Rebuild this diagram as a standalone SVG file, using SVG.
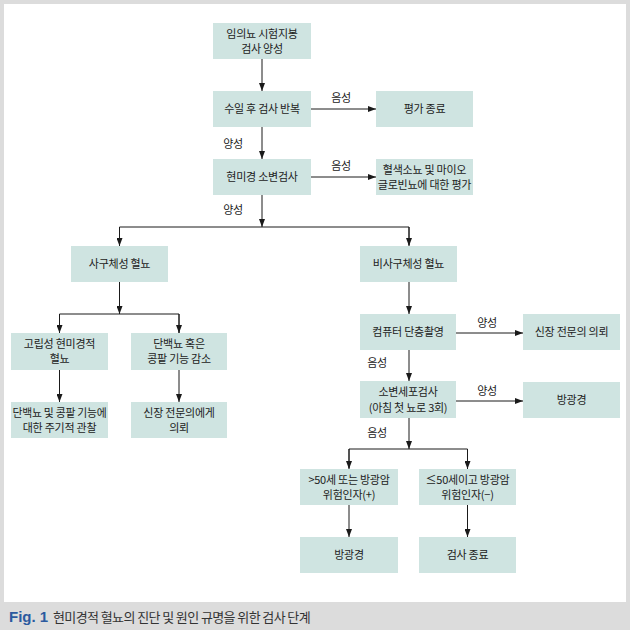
<svg xmlns="http://www.w3.org/2000/svg" width="630" height="630" viewBox="0 0 630 630">
<style>
.box{fill:#cfe4e1;}
.t{font-family:"Noto Sans CJK KR","Noto Sans",sans-serif;font-size:11px;fill:#222;text-anchor:middle;letter-spacing:-0.25px;}
.lbl{font-family:"Noto Sans CJK KR","Noto Sans",sans-serif;font-size:11px;fill:#222;text-anchor:middle;letter-spacing:-0.25px;}
.ln{stroke:#1a1a1a;stroke-width:1;fill:none;}
.ar{stroke:#1a1a1a;stroke-width:1;fill:none;marker-end:url(#ah);}
</style>
<defs>
<marker id="ah" viewBox="0 0 8 6" refX="8" refY="3" markerWidth="8" markerHeight="6" markerUnits="userSpaceOnUse" orient="auto">
<path d="M0,0 L8,3 L0,6 z" fill="#1a1a1a"/>
</marker>
</defs>
<rect x="0" y="0" width="630" height="630" fill="#dcdcdc"/>
<rect x="4" y="4" width="622" height="598" fill="#ffffff"/>

<g id="connectors">
<line class="ar" x1="262" y1="59" x2="262" y2="91"/>
<line class="ar" x1="311" y1="109" x2="376" y2="109"/>
<line class="ar" x1="262" y1="127" x2="262" y2="159"/>
<line class="ar" x1="311" y1="177" x2="376" y2="177"/>
<line class="ar" x1="262" y1="195" x2="262" y2="227"/>
<polyline class="ln" points="119.5,245 119.5,227 409,227 409,245"/>
<line class="ar" x1="119.5" y1="227" x2="119.5" y2="246"/>
<line class="ar" x1="409" y1="227" x2="409" y2="246"/>
<line class="ar" x1="119.5" y1="282" x2="119.5" y2="314"/>
<polyline class="ln" points="59.5,333 59.5,314 179,314 179,333"/>
<line class="ar" x1="59.5" y1="314" x2="59.5" y2="333"/>
<line class="ar" x1="179" y1="314" x2="179" y2="333"/>
<line class="ar" x1="59.5" y1="370" x2="59.5" y2="402"/>
<line class="ar" x1="179" y1="370" x2="179" y2="402"/>
<line class="ar" x1="409" y1="282" x2="409" y2="314"/>
<line class="ar" x1="456" y1="333" x2="523" y2="333"/>
<line class="ar" x1="409" y1="350" x2="409" y2="381"/>
<line class="ar" x1="456" y1="401" x2="523" y2="401"/>
<line class="ar" x1="409" y1="418" x2="409" y2="449"/>
<polyline class="ln" points="349,468 349,449 467.5,449 467.5,468"/>
<line class="ar" x1="349" y1="449" x2="349" y2="469"/>
<line class="ar" x1="467.5" y1="449" x2="467.5" y2="469"/>
<line class="ar" x1="349" y1="505" x2="349" y2="537"/>
<line class="ar" x1="467.5" y1="505" x2="467.5" y2="537"/>
<text class="lbl" x="341" y="102">음성</text>
<text class="lbl" x="233" y="148">양성</text>
<text class="lbl" x="341" y="170">음성</text>
<text class="lbl" x="233" y="214">양성</text>
<text class="lbl" x="487" y="327">양성</text>
<text class="lbl" x="377" y="367">음성</text>
<text class="lbl" x="487" y="395">양성</text>
<text class="lbl" x="377" y="437">음성</text>
</g>

<g id="n1"><rect class="box" x="213" y="23" width="98" height="36"/>
<text class="t" x="262" y="38">임의뇨 시험지봉</text><text class="t" x="262" y="53">검사 양성</text></g>
<g id="n2"><rect class="box" x="213" y="91" width="98" height="36"/>
<text class="t" x="262" y="113">수일 후 검사 반복</text></g>
<g id="n3"><rect class="box" x="376" y="91" width="97" height="36"/>
<text class="t" x="424.5" y="113">평가 종료</text></g>
<g id="n4"><rect class="box" x="213" y="159" width="98" height="36"/>
<text class="t" x="262" y="181">현미경 소변검사</text></g>
<g id="n5"><rect class="box" x="376" y="159" width="97" height="36"/>
<text class="t" x="424.5" y="174">혈색소뇨 및 마이오</text><text class="t" x="424.5" y="189">글로빈뇨에 대한 평가</text></g>
<g id="n6"><rect class="box" x="71" y="246" width="97" height="36"/>
<text class="t" x="119.5" y="268">사구체성 혈뇨</text></g>
<g id="n7"><rect class="box" x="360" y="246" width="97" height="36"/>
<text class="t" x="408.5" y="268">비사구체성 혈뇨</text></g>
<g id="n8"><rect class="box" x="11" y="333" width="97" height="37"/>
<text class="t" x="59.5" y="348">고립성 현미경적</text><text class="t" x="59.5" y="363">혈뇨</text></g>
<g id="n9"><rect class="box" x="131" y="333" width="96" height="37"/>
<text class="t" x="179" y="348">단백뇨 혹은</text><text class="t" x="179" y="363">콩팥 기능 감소</text></g>
<g id="n10"><rect class="box" x="11" y="402" width="97" height="36"/>
<text class="t" x="59.5" y="417" textLength="94" lengthAdjust="spacingAndGlyphs">단백뇨 및 콩팥 기능에</text><text class="t" x="59.5" y="432">대한 주기적 관찰</text></g>
<g id="n11"><rect class="box" x="131" y="402" width="96" height="36"/>
<text class="t" x="179" y="417">신장 전문의에게</text><text class="t" x="179" y="432">의뢰</text></g>
<g id="n12"><rect class="box" x="360" y="314" width="96" height="36"/>
<text class="t" x="408" y="336">컴퓨터 단층촬영</text></g>
<g id="n13"><rect class="box" x="523" y="314" width="97" height="36"/>
<text class="t" x="571.5" y="336">신장 전문의 의뢰</text></g>
<g id="n14"><rect class="box" x="360" y="381" width="96" height="37"/>
<text class="t" x="408" y="396">소변세포검사</text><text class="t" x="408" y="412">(아침 첫 뇨로 3회)</text></g>
<g id="n15"><rect class="box" x="523" y="382" width="97" height="36"/>
<text class="t" x="571.5" y="404">방광경</text></g>
<g id="n16"><rect class="box" x="300" y="469" width="98" height="36"/>
<text class="t" x="349" y="484">&gt;50세 또는 방광암</text><text class="t" x="349" y="499">위험인자(+)</text></g>
<g id="n17"><rect class="box" x="419" y="469" width="97" height="36"/>
<text class="t" x="467.5" y="484">≤50세이고 방광암</text><text class="t" x="467.5" y="499">위험인자(−)</text></g>
<g id="n18"><rect class="box" x="300" y="537" width="98" height="36"/>
<text class="t" x="349" y="559">방광경</text></g>
<g id="n19"><rect class="box" x="419" y="537" width="97" height="36"/>
<text class="t" x="467.5" y="559">검사 종료</text></g>

<g id="caption">
<text x="9" y="622" font-family="'Liberation Sans',Arial,sans-serif" font-size="15" font-weight="bold" fill="#2b5a9f">Fig. 1</text>
<text x="53" y="622" font-family="'Noto Sans CJK KR','Noto Sans',sans-serif" font-size="13" letter-spacing="-0.6" fill="#333333">현미경적 혈뇨의 진단 및 원인 규명을 위한 검사 단계</text>
</g>
</svg>
